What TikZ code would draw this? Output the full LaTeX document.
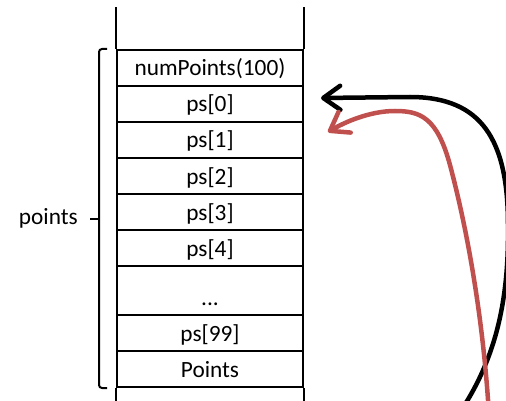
\documentclass[tikz,border=0pt]{standalone}
\usepackage{fontspec}
\setmainfont{Carlito}
\usetikzlibrary{arrows.meta,calc}
\definecolor{arrowred}{RGB}{192,80,77}
\begin{document}
\begin{tikzpicture}[x=1pt,y=-1pt,
  cell/.style={draw, line width=2pt, minimum width=186pt, minimum height=36pt,
    inner sep=0pt, text height=19pt, text depth=3pt,
    font=\fontsize{23.3}{27}\selectfont, anchor=north west},
  wall/.style={line width=2pt},
  bracketline/.style={line width=2pt, rounded corners=3pt},
  tag/.style={inner sep=0pt, font=\fontsize{23.3}{27}\selectfont},
  pointer/.style={line width=4.5pt, line cap=round,
    -{Straight Barb[length=17pt,width=24pt,round]}}]
\useasboundingbox (0,0) rectangle (506,401);

% memory cells of the stack
\node[cell] (n0)  at (116,49)  {numPoints(100)};
\node[cell] (c0)  at (116,85)  {ps[0]};
\node[cell] (c1)  at (116,121) {ps[1]};
\node[cell] (c2)  at (116,157) {ps[2]};
\node[cell] (c3)  at (116,193) {ps[3]};
\node[cell] (c4)  at (116,229) {ps[4]};
\node[cell, minimum height=49pt, text height=32pt] (cdots) at (116,265) {...};
\node[cell] (c99) at (116,314) {ps[99]};
\node[cell] (pts) at (116,350) {Points};

% stack walls continuing above and below
\draw[wall] (n0.north west) -- ++(0,-42);
\draw[wall] (n0.north east) -- ++(0,-42);
\draw[wall] (pts.south west) -- ++(0,20);
\draw[wall] (pts.south east) -- ++(0,20);

% bracket grouping the object
\draw[bracketline] ([xshift=-9pt]n0.north west) -| ([xshift=-17pt]pts.south west)
  -- ([xshift=-9pt]pts.south west);
\coordinate (bmid) at ([xshift=-17pt]$(n0.north west)!0.5!(pts.south west)$);
\draw[wall] (bmid) -- ([xshift=-9pt]bmid);
\node[tag, anchor=east] (lbl) at ([xshift=-21pt]bmid) {points};

% pointers coming from below
\coordinate (blacktail) at (458,415);
\coordinate (redtail) at (489,415);
\draw[pointer] (blacktail) .. controls (496,360) and (509,300) .. (508,225)
  .. controls (508,140) and (482,97) .. (410,97) -- ([shift={(17,-6)}]c0.east);
\draw[pointer, arrowred] (redtail) .. controls (484,330) and (470,240) .. (450,165)
  .. controls (437,117) and (420,111) .. (395,111)
  .. controls (370,111) and (345,122) .. ([shift={(24,-8)}]c1.east);
\end{tikzpicture}
\end{document}
